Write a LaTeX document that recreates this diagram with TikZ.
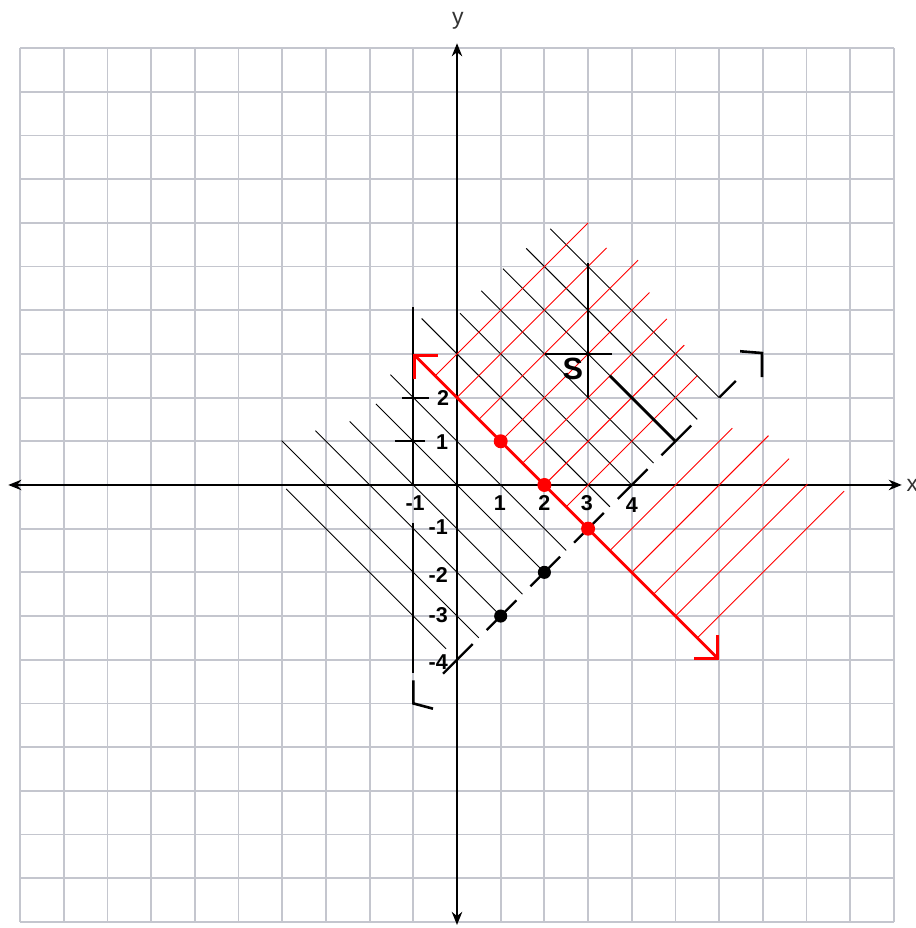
\documentclass[tikz,border=0pt]{standalone}
\usepackage{fontspec}
\setmainfont{Liberation Sans}
\usetikzlibrary{arrows.meta}
\definecolor{gridgray}{RGB}{196,198,206}
\definecolor{markred}{RGB}{255,0,0}
\tikzset{gridline/.style={draw=gridgray, line width=1.2pt}}
\tikzset{axisline/.style={draw=black, line width=1.1pt,
  arrows={Stealth[length=3mm,width=2.4mm]-Stealth[length=3mm,width=2.4mm]}}}
\tikzset{axislabel/.style={font=\fontsize{15}{17}\selectfont, text=black!80, inner sep=1pt}}
\tikzset{numlabel/.style={font=\fontsize{14}{16}\selectfont\bfseries, inner sep=1pt}}
\tikzset{slabel/.style={font=\fontsize{20}{22}\selectfont\bfseries, inner sep=1pt}}
\tikzset{hatchblack/.style={draw=black, line width=0.6pt}}
\tikzset{hatchred/.style={draw=markred, line width=0.6pt}}
\tikzset{crossline/.style={draw=black, line width=1.3pt}}
\tikzset{thickseg/.style={draw=black, line width=1.9pt}}
\tikzset{dashseg/.style={draw=black, line width=1.5pt}}
\tikzset{barb/.style={draw=black, line width=1.7pt}}
\tikzset{redline/.style={draw=markred, line width=1.9pt,
  arrows={Straight Barb[length=3.8mm,width=7.6mm]-Straight Barb[length=3.8mm,width=7.6mm]}}}
\tikzset{reddot/.style={circle, fill=markred, inner sep=0pt, minimum size=3.2mm}}
\tikzset{blackdot/.style={circle, fill=black, inner sep=0pt, minimum size=3mm}}

\begin{document}
\begin{tikzpicture}
  \useasboundingbox (-10.46,-10.14) rectangle (10.5,11.1);
  % grid paper
  \draw[gridline] (-10,-10) grid (10,10);

  % axes
  \coordinate (xmin) at (-10.27,0);
  \coordinate (xmax) at (10.18,0);
  \coordinate (ymin) at (0,-10.07);
  \coordinate (ymax) at (0,10.11);
  \draw[axisline] (xmin) -- (xmax);
  \draw[axisline] (ymin) -- (ymax);
  \node[axislabel] (xlab) at (10.42,0) {x};
  \node[axislabel] (ylab) at (0.02,10.62) {y};

  % black hatching along x+y=c, down to y=x-4
  \foreach \cc/\ds/\de in {-4/3.82/-3.5, -3/5.03/-4, -2/4.48/-4, -1/3.91/-4, 0/3.71/-4,
      1/4.05/-4, 2/4/-4, 3/4.62/-4, 4/3.86/-4, 5/3.89/-4, 6/3.9/-1, 7/3.83/-4, 8/3.73/-4}
    \draw[hatchblack] ({(\cc-(\ds))/2},{(\cc+(\ds))/2}) -- ({(\cc-(\de))/2},{(\cc+(\de))/2});

  % red hatching along y-x=d, up from x+y=2
  \foreach \dd/\ss in {3/9, 2/8.85, 1/9.29, 0/8.81, -1/8.6, -2/8.4, -3/8,
      -5/7.6, -6/8.26, -7/8.2, -8/8.04, -9/8.72}
    \draw[hatchred] ({(2-(\dd))/2},{(2+(\dd))/2}) -- ({(\ss-(\dd))/2},{(\ss+(\dd))/2});

  % line x=-1 with ticks
  \draw[crossline] (-1,4.07) -- (-1,0);
  \draw[crossline] (-1,-0.87) -- (-1,-4.3);
  \draw[crossline] (-1.25,2) -- (-0.65,2);
  \draw[crossline] (-1.42,1) -- (-0.73,1);

  % S and its cross
  \draw[crossline] (3,2) -- (3,5.08);
  \draw[crossline] (2.02,3) -- (3.55,3);
  \draw[thickseg] (3.5,2.5) -- (5,1);
  \node[slabel] (S) at (2.65,2.66) {S};

  % dashed line y=x-4
  \foreach \k in {0,...,5}
    \draw[dashseg] (\k-0.32,\k-4.32) -- (\k+0.36,\k-3.64);
  \draw[dashseg] (6,2) -- (6.38,2.38);
  \draw[barb] (-1,-4.47) -- (-1,-5) -- (-0.55,-5.12);
  \draw[barb] (6.48,3.06) -- (6.98,3.02) -- (6.98,2.47);

  % red line x+y=2
  \coordinate (rtop) at (-1,3);
  \coordinate (rbot) at (6,-4);
  \draw[redline] (rtop) -- (rbot);

  % points
  \node[reddot] (r1) at (1,1) {};
  \node[reddot] (r2) at (2,0) {};
  \node[reddot] (r3) at (3,-1) {};
  \node[blackdot] (b1) at (1,-3) {};
  \node[blackdot] (b2) at (2,-2) {};

  % numbers on x axis
  \node[numlabel] (xm1) at (-0.96,-0.42) {-1};
  \node[numlabel] (x1) at (0.98,-0.42) {1};
  \node[numlabel] (x2) at (2,-0.42) {2};
  \node[numlabel] (x3) at (2.97,-0.42) {3};
  \node[numlabel] (x4) at (4,-0.45) {4};
  % numbers on y axis
  \node[numlabel] (y2) at (-0.32,2) {2};
  \node[numlabel] (y1) at (-0.34,0.97) {1};
  \node[numlabel] (ym1) at (-0.43,-0.96) {-1};
  \node[numlabel] (ym2) at (-0.43,-2.06) {-2};
  \node[numlabel] (ym3) at (-0.43,-2.97) {-3};
  \node[numlabel] (ym4) at (-0.43,-4.05) {-4};
\end{tikzpicture}
\end{document}
